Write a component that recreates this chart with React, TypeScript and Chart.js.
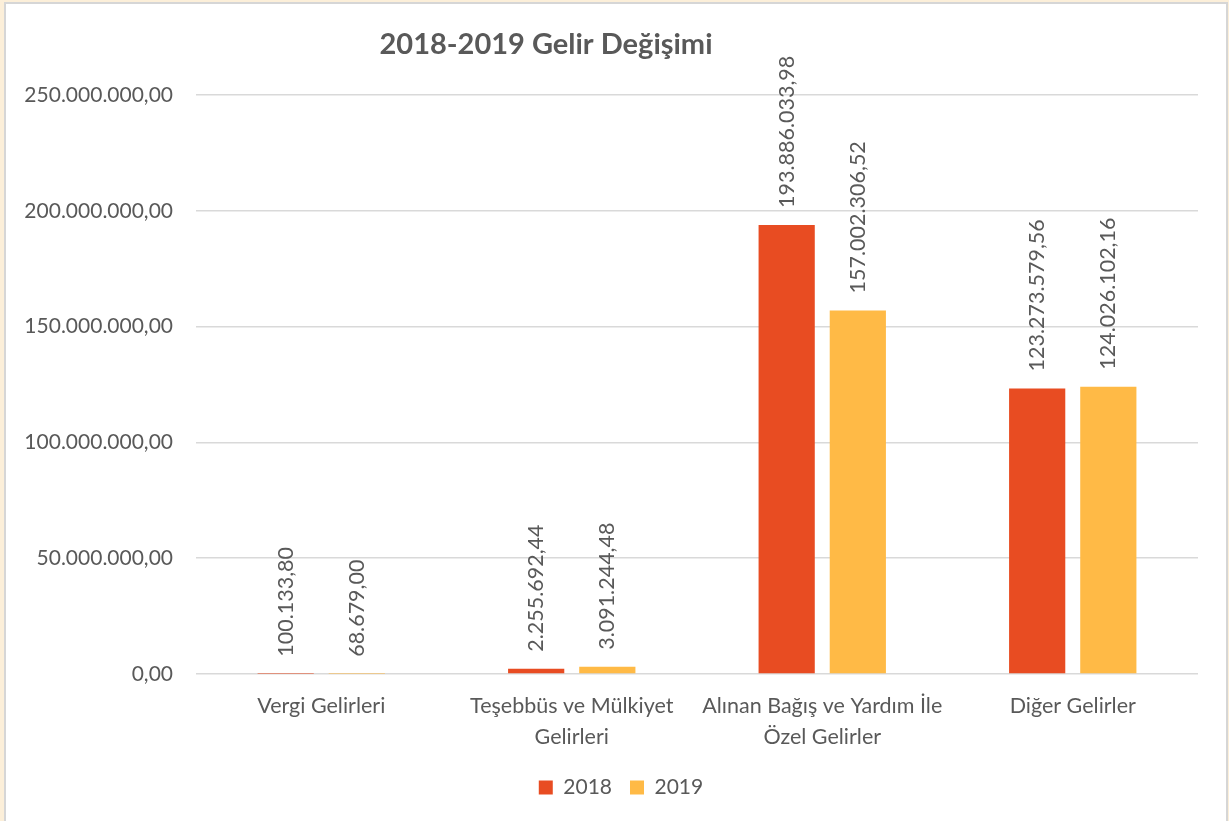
import React, { useEffect, useRef } from "react";
import { Chart, registerables } from "chart.js";

Chart.register(...registerables);

const chartTitle = "2018-2019 Gelir Değişimi";
const categories: (string | string[])[] = [
  "Vergi Gelirleri",
  ["Teşebbüs ve Mülkiyet", "Gelirleri"],
  ["Alınan Bağış ve Yardım İle", "Özel Gelirler"],
  "Diğer Gelirler",
];
const seriesNames = ["2018", "2019"];
const values2018 = [100133.8, 2255692.44, 193886033.98, 123273579.56];
const values2019 = [68679.0, 3091244.48, 157002306.52, 124026102.16];
const yMin = 0;
const yMax = 250000000;
const yStep = 50000000;

const FONT = "Lato";
const TEXT = "#595959";

function formatTR(v: number): string {
  const neg = v < 0;
  const abs = Math.abs(v);
  const fixed = abs.toFixed(2);
  const [intPart, dec] = fixed.split(".");
  const withDots = intPart.replace(/\B(?=(\d{3})+(?!\d))/g, ".");
  return (neg ? "-" : "") + withDots + "," + dec;
}

const titlePlugin = {
  id: "customTitle",
  afterDraw(chart: any) {
    const ctx = chart.ctx;
    ctx.save();
    ctx.font = `bold 29px ${FONT}`;
    ctx.fillStyle = TEXT;
    ctx.textAlign = "center";
    ctx.textBaseline = "middle";
    ctx.fillText(chartTitle, 546, 45);
    ctx.restore();
  },
};

const legendShiftPlugin = {
  id: "legendShift",
  afterLayout(chart: any) {
    if (chart.legend) {
      chart.legend.left += 22;
      chart.legend.right += 22;
    }
  },
};

const dataLabelPlugin = {
  id: "vertLabels",
  afterDatasetsDraw(chart: any) {
    const ctx = chart.ctx;
    ctx.save();
    ctx.font = `21.5px ${FONT}`;
    ctx.fillStyle = TEXT;
    ctx.textAlign = "left";
    ctx.textBaseline = "middle";
    chart.data.datasets.forEach((ds: any, di: number) => {
      const meta = chart.getDatasetMeta(di);
      meta.data.forEach((bar: any, i: number) => {
        const v = ds.data[i] as number;
        ctx.save();
        ctx.translate(bar.x, bar.y - 17);
        ctx.rotate(-Math.PI / 2);
        ctx.fillText(formatTR(v), 0, 0);
        ctx.restore();
      });
    });
    ctx.restore();
  },
};

export default function App() {
  const ref = useRef<HTMLCanvasElement | null>(null);

  useEffect(() => {
    document.body.style.margin = "0";
    if (!ref.current) return;
    const chart = new Chart(ref.current, {
      type: "bar",
      data: {
        labels: categories,
        datasets: [
          {
            label: seriesNames[0],
            data: values2018,
            backgroundColor: "#E84C22",
            categoryPercentage: 0.568,
            barPercentage: 0.79,
          },
          {
            label: seriesNames[1],
            data: values2019,
            backgroundColor: "#FFBA46",
            categoryPercentage: 0.568,
            barPercentage: 0.79,
          },
        ],
      },
      options: {
        responsive: false,
        animation: false,
        devicePixelRatio: 1,
        layout: { padding: { left: 0, right: 31, top: 95, bottom: 13 } },
        plugins: {
          title: { display: false },
          tooltip: { enabled: false },
          legend: {
            display: true,
            position: "bottom",
            labels: {
              boxWidth: 14,
              boxHeight: 14,
              padding: 18,
              color: TEXT,
              font: { family: FONT, size: 21 },
            },
          },
        },
        scales: {
          x: {
            grid: { display: false },
            border: { display: false },
            ticks: {
              color: TEXT,
              font: { family: FONT, size: 21.5, lineHeight: 1.45 },
              padding: 8,
              maxRotation: 0,
              autoSkip: false,
            },
            afterFit: (scale: any) => {
              scale.height = 85;
            },
          },
          y: {
            min: yMin,
            max: yMax,
            grid: { color: "#d9d9d9", lineWidth: 1.5, drawTicks: false },
            border: { display: false },
            ticks: {
              stepSize: yStep,
              color: TEXT,
              font: { family: FONT, size: 21 },
              padding: 23,
              callback: (v: any) => formatTR(Number(v)),
            },
            afterFit: (scale: any) => {
              scale.width = 196;
            },
          },
        },
      },
      plugins: [titlePlugin, dataLabelPlugin, legendShiftPlugin],
    });
    return () => chart.destroy();
  }, []);

  return (
    <div
      style={{
        position: "fixed",
        left: 0,
        top: 0,
        width: 1229,
        height: 821,
        background: "#FCEFD9",
        overflow: "hidden",
      }}
    >
      <div
        style={{
          position: "absolute",
          left: 4,
          top: 2,
          width: 1224,
          height: 900,
          background: "#ffffff",
          border: "2px solid #d6d6d6",
          boxSizing: "border-box",
        }}
      />
      <canvas
        ref={ref}
        width={1229}
        height={821}
        style={{ position: "absolute", left: 0, top: 0, width: 1229, height: 821 }}
      />
    </div>
  );
}
